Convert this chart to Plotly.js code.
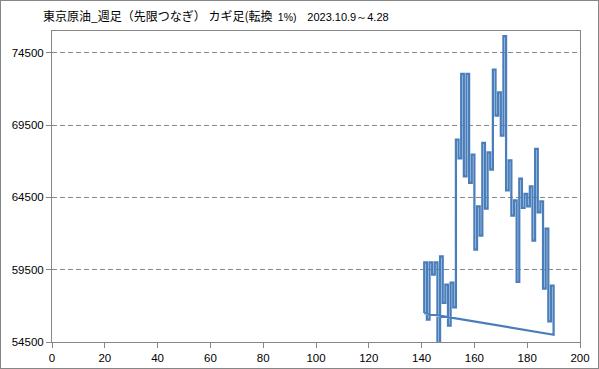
<!DOCTYPE html>
<html>
<head>
<meta charset="utf-8">
<script src="https://cdn.plot.ly/plotly-3.0.1.min.js"></script>
<style>
  html, body { margin: 0; padding: 0; background: #fff; }
  #wrap { width: 599px; height: 369px; box-sizing: border-box; border: 1px solid #868686; }
  #chart { width: 597px; height: 367px; }
</style>
</head>
<body>
<div id="wrap"><div id="chart"></div></div>
<script>
// Kagi chart data (1% reversal), weekly Tokyo crude oil
const startLevel = 56500;
const turnX = [141,142,143,144,145,146,147,148,149,150,
               151,152,153,154,155,156,157,158,159,160,
               161,162,163,164,165,166,167,168,169,170,
               171,172,173,174,175,176,177,178,179,180,
               181,182,183,184,185,186,187,188,189,190];
const turnLevel = [60000,56040,60000,59155,60000,54300,60420,57200,58460,55630,
                   58600,56890,68490,67200,73030,65950,73030,65500,67450,60880,
                   63880,61850,68260,63720,67610,66420,73330,70150,71760,68770,
                   75640,64990,67060,63240,64290,58650,65790,63770,64740,63880,
                   65260,61510,67850,63460,64220,58190,62340,55930,58390,55000];
const xTicks = [0,20,40,60,80,100,120,140,160,180,200];
const yTicks = [54500,59500,64500,69500,74500];

// build the kagi path from the turn arrays
const px = [], py = [];
let prev = startLevel;
for (let i = 0; i < turnX.length; i++) {
  px.push(turnX[i]); py.push(prev);
  px.push(turnX[i]); py.push(turnLevel[i]);
  prev = turnLevel[i];
}
// closing segment back to the start, as in the original
px.push(turnX[0]); py.push(startLevel);

const gray = '#868686';
const trace = {
  x: px, y: py, type: 'scatter', mode: 'lines',
  line: { color: 'rgb(74,126,187)', width: 2.25 },
  hoverinfo: 'skip'
};

const layout = {
  width: 597, height: 367,
  margin: { l: 51, r: 18, t: 30, b: 26, pad: 0 },
  paper_bgcolor: '#fff', plot_bgcolor: '#fff',
  showlegend: false,
  title: {
    text: '東京原油_週足（先限つなぎ）\u00a0カギ足(転換\u00a0\u00a0<span style="font-family:Liberation Sans;font-size:10.5px">1%)</span>\u00a0\u00a0\u00a0\u00a0<span style="font-family:Liberation Sans;font-size:11px">2023.10.9～4.28</span>',
    font: { family: 'Noto Sans CJK JP, sans-serif', size: 12, color: '#000' },
    xref: 'container', yref: 'container',
    x: 42 / 597, xanchor: 'left',
    y: 1 - 16 / 367, yanchor: 'middle'
  },
  xaxis: {
    range: [0, 200], tickvals: xTicks, ticktext: xTicks.map(String),
    showgrid: false, zeroline: false,
    showline: true, linecolor: gray, linewidth: 1, mirror: true,
    ticks: 'outside', ticklen: 5, tickcolor: gray, tickwidth: 1,
    tickfont: { family: 'Liberation Sans, Arial, sans-serif', size: 11.5, color: '#000' },
    fixedrange: true
  },
  yaxis: {
    range: [54500, 76000], tickvals: yTicks, ticktext: yTicks.map(String),
    showgrid: true, gridcolor: gray, gridwidth: 1, griddash: '5px,3px',
    zeroline: false,
    showline: true, linecolor: gray, linewidth: 1, mirror: true,
    ticks: 'outside', ticklen: 5, tickcolor: gray, tickwidth: 1,
    tickfont: { family: 'Liberation Sans, Arial, sans-serif', size: 11.5, color: '#000' },
    fixedrange: true
  }
};

Plotly.newPlot('chart', [trace], layout, { staticPlot: true, displayModeBar: false });
</script>
</body>
</html>
